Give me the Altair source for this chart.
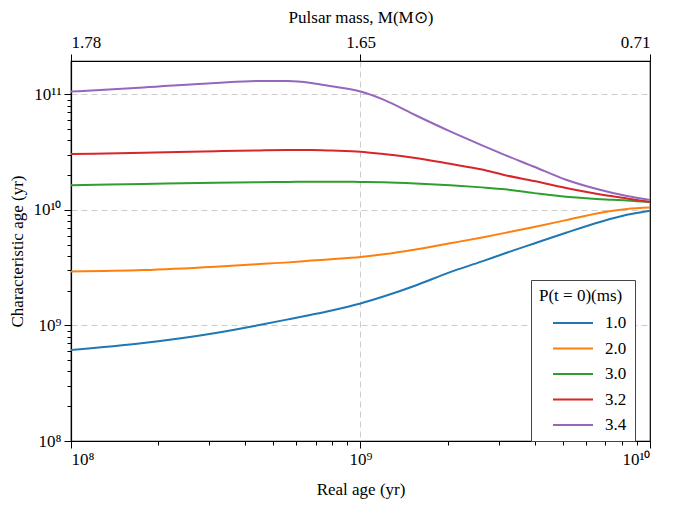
import altair as alt
import pandas as pd

# Real age grid (yr)
age = [1.0e8, 1.78e8, 3.16e8, 4.47e8, 5.62e8, 6.76e8, 7.94e8, 1.0e9, 1.20e9,
       1.55e9, 2.04e9, 2.63e9, 3.16e9, 3.98e9, 5.13e9, 6.76e9, 8.32e9, 1.0e10]

# Characteristic age (yr) for each initial period
tau_10 = [6.14e8, 7.05e8, 8.61e8, 1.01e9, 1.13e9, 1.24e9, 1.35e9, 1.55e9, 1.78e9,
          2.22e9, 2.90e9, 3.59e9, 4.22e9, 5.13e9, 6.35e9, 7.91e9, 9.08e9, 9.86e9]
tau_20 = [2.94e9, 3.02e9, 3.23e9, 3.40e9, 3.52e9, 3.65e9, 3.75e9, 3.92e9, 4.13e9,
          4.55e9, 5.15e9, 5.79e9, 6.34e9, 7.13e9, 8.17e9, 9.48e9, 1.02e10, 1.05e10]
tau_30 = [1.64e10, 1.68e10, 1.72e10, 1.74e10, 1.75e10, 1.76e10, 1.76e10, 1.75e10, 1.74e10,
          1.70e10, 1.64e10, 1.57e10, 1.51e10, 1.40e10, 1.30e10, 1.24e10, 1.21e10, 1.17e10]
tau_32 = [3.05e10, 3.13e10, 3.23e10, 3.28e10, 3.30e10, 3.30e10, 3.27e10, 3.20e10, 3.05e10,
          2.82e10, 2.51e10, 2.24e10, 2.00e10, 1.78e10, 1.55e10, 1.36e10, 1.26e10, 1.17e10]
tau_34 = [1.06e11, 1.15e11, 1.26e11, 1.31e11, 1.31e11, 1.26e11, 1.18e11, 1.06e11, 9.02e10,
          6.61e10, 4.79e10, 3.63e10, 2.99e10, 2.37e10, 1.83e10, 1.49e10, 1.32e10, 1.22e10]

periods = ["1.0", "2.0", "3.0", "3.2", "3.4"]
series = [tau_10, tau_20, tau_30, tau_32, tau_34]
colors = ["#1f77b4", "#ff7f0e", "#2ca02c", "#d62728", "#9467bd"]

x_major = [1e8, 1e9, 1e10]
y_major = [1e8, 1e9, 1e10, 1e11]
x_grid = [1e9]
y_grid = [1e9, 1e10, 1e11]
mass_labels = ["1.78", "1.65", "0.71"]
x_minor = [k * 10 ** e for e in (8, 9) for k in range(2, 10)]
y_minor = [k * 10 ** e for e in (8, 9, 10) for k in range(2, 10)]

rows = []
for p, vals in zip(periods, series):
    for a, t in zip(age, vals):
        rows.append({"age": a, "tau": t, "P": p})
df = pd.DataFrame(rows)

font = "Liberation Serif"
xscale = alt.Scale(type="log", domain=[1e8, 1e10], nice=False)
yscale = alt.Scale(type="log", domain=[1e8, 1.95e11], nice=False)

pow_expr = ("datum.value == 1e8 ? '10⁸' : datum.value == 1e9 ? '10⁹' : "
            "datum.value == 1e10 ? '10¹⁰' : datum.value == 1e11 ? '10¹¹' : ''")
mass_expr = (f"datum.value == 1e8 ? '{mass_labels[0]}' : datum.value == 1e9 ? "
             f"'{mass_labels[1]}' : '{mass_labels[2]}'")

lab = dict(labelFont=font, labelFontSize=17, titleFont=font, titleFontSize=17,
           titleFontWeight="normal", labelColor="black", titleColor="black")

gridlayer = alt.Chart(df).mark_point(opacity=0).encode(
    x=alt.X("age:Q", scale=xscale,
            axis=alt.Axis(orient="bottom", title=None, values=x_grid, labels=False,
                          ticks=False, domain=False, grid=True, gridDash=[6, 4],
                          gridColor="#cccccc", gridWidth=1)),
    y=alt.Y("tau:Q", scale=yscale,
            axis=alt.Axis(orient="left", title=None, values=y_grid, labels=False,
                          ticks=False, domain=False, grid=True, gridDash=[6, 4],
                          gridColor="#cccccc", gridWidth=1)),
)

lines = alt.Chart(df).mark_line(strokeWidth=2, interpolate="monotone", clip=True).encode(
    x=alt.X("age:Q", scale=xscale,
            axis=alt.Axis(orient="bottom", title="Real age (yr)", values=x_major,
                          labelExpr=pow_expr, tickSize=7, titlePadding=14, labelPadding=3,
                          grid=False, **lab)),
    y=alt.Y("tau:Q", scale=yscale,
            axis=alt.Axis(orient="left", title="Characteristic age (yr)", values=y_major,
                          labelExpr=pow_expr, tickSize=7, titlePadding=6, labelPadding=3,
                          grid=False, **lab)),
    color=alt.Color("P:N", scale=alt.Scale(domain=periods, range=colors),
                    legend=alt.Legend(title="P(t = 0)(ms)", orient="none", legendX=460, legendY=219,
                                      fillColor="white", strokeColor="#444444", padding=8,
                                      cornerRadius=0, titleFontSize=17, labelFontSize=17,
                                      titleFont=font, labelFont=font, titleFontWeight="normal",
                                      titlePadding=7, symbolType="M-2,0H2", symbolSize=400,
                                      symbolOffset=23, symbolStrokeWidth=2, labelOffset=21,
                                      rowPadding=6.5, labelColor="black", titleColor="black")),
)

minor = alt.Chart(df).mark_point(opacity=0).encode(
    x=alt.X("age:Q", scale=xscale,
            axis=alt.Axis(orient="bottom", title=None, values=x_minor, labels=False,
                          tickSize=4, grid=False, domain=False)),
    y=alt.Y("tau:Q", scale=yscale,
            axis=alt.Axis(orient="left", title=None, values=y_minor, labels=False,
                          tickSize=4, grid=False, domain=False)),
)

top = alt.Chart(df).mark_point(opacity=0).encode(
    x=alt.X("age:Q", scale=xscale,
            axis=alt.Axis(orient="top", title="Pulsar mass, M(M⊙)", values=x_major,
                          labelExpr=mass_expr, tickSize=7, grid=False, titlePadding=7,
                          labelPadding=3, **lab)),
)

chart = alt.layer(gridlayer, lines, minor, top).resolve_axis(
    x="independent", y="independent"
).properties(
    width=579, height=380,
    padding={"left": 63, "top": 53, "right": 16, "bottom": 58},
    autosize=alt.AutoSizeParams(type="none"),
).configure(
    font=font,
).configure_axis(
    labelFont=font, titleFont=font, labelFontSize=17, titleFontSize=17,
    titleFontWeight="normal", domainColor="black", tickColor="black",
    labelColor="black", titleColor="black", domainWidth=1.2, tickWidth=1,
).configure_legend(
    labelFont=font, titleFont=font,
).configure_view(stroke="black", strokeWidth=1.2)

chart.save("out.html", embed_options={"renderer": "svg", "actions": False})
